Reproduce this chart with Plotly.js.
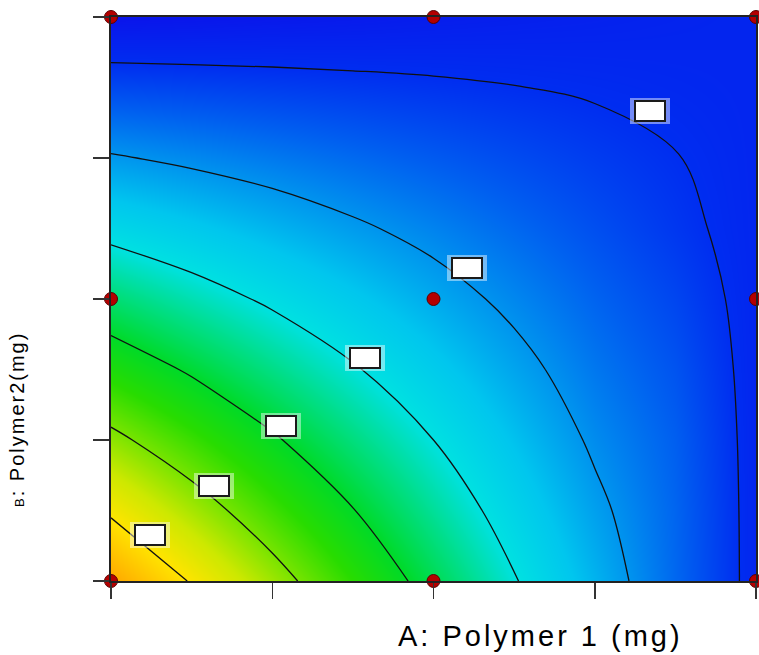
<!DOCTYPE html>
<html>
<head>
<meta charset="utf-8">
<script src="https://cdn.plot.ly/plotly-3.0.1.min.js"></script>
<style>
  html, body { margin: 0; padding: 0; background: #ffffff; }
  #chart { width: 759px; height: 655px; }
</style>
</head>
<body>
<div id="chart"></div>
<script>
// Coded factor levels (A: Polymer 1, B: Polymer 2), -1 .. +1
var factorA = [-1, -0.75, -0.5, -0.25, 0, 0.25, 0.5, 0.75, 1];
var factorB = [-1, -0.75, -0.5, -0.25, 0, 0.25, 0.5, 0.75, 1];

// Response values (rows follow factorB, columns follow factorA)
var respB_m100 = [86.9, 79.6, 72.3, 65.0, 57.7, 50.4, 43.1, 35.80, 28.5];
var respB_m075 = [79.2, 72.8, 66.5, 60.2, 53.8, 47.5, 41.2, 35.57, 28.5];
var respB_m050 = [71.4, 66.1, 60.7, 55.3, 50.0, 44.6, 39.2, 34.96, 28.5];
var respB_m025 = [63.7, 59.3, 54.9, 50.5, 46.1, 41.7, 37.3, 33.86, 28.5];
var respB_000  = [56.0, 52.5, 49.1, 45.7, 42.2, 38.8, 35.4, 32.45, 28.5];
var respB_p025 = [48.2, 45.8, 43.3, 40.8, 38.4, 35.9, 33.4, 31.00, 28.5];
var respB_p050 = [40.48, 38.98, 37.49, 35.99, 34.49, 32.99, 31.50, 30.13, 28.5];
var respB_p075 = [32.74, 32.21, 31.68, 31.15, 30.62, 30.09, 29.56, 29.03, 28.5];
var respB_p100 = [25.0, 25.4, 25.9, 26.3, 26.8, 27.2, 27.6, 28.06, 28.5];

// Contour levels drawn
var contourStart = 30;
var contourEnd = 80;
var contourStep = 10;

// Design points (red dots)
var designA = [-1, 0, 1, -1, 0, 1, -1, 0, 1];
var designB = [-1, -1, -1, 0, 0, 0, 1, 1, 1];

// Contour label positions (blank label boxes), one per contour from 80 down to 30
var labelA = [-0.879, -0.681, -0.473, -0.212, 0.104, 0.671];
var labelB = [-0.837, -0.663, -0.450, -0.209, 0.110, 0.667];

// Tick positions (no tick labels shown)
var tickA = [-1, -0.5, 0, 0.5, 1];
var tickB = [-1, -0.5, 0, 0.5, 1];

var zGrid = [respB_m100, respB_m075, respB_m050, respB_m025, respB_000,
             respB_p025, respB_p050, respB_p075, respB_p100];

var zMin = 25, zMax = 87;
function nrm(v) { return (v - zMin) / (zMax - zMin); }
var colorscale = [
  [0, 'rgb(10,20,235)'],
  [nrm(30), 'rgb(0,45,240)'],
  [nrm(35), 'rgb(0,95,240)'],
  [nrm(40), 'rgb(0,148,238)'],
  [nrm(45), 'rgb(0,198,238)'],
  [nrm(50), 'rgb(0,225,225)'],
  [nrm(55), 'rgb(0,222,130)'],
  [nrm(60), 'rgb(0,218,40)'],
  [nrm(65), 'rgb(40,220,0)'],
  [nrm(70), 'rgb(120,228,0)'],
  [nrm(75), 'rgb(205,232,0)'],
  [nrm(80), 'rgb(255,228,0)'],
  [1, 'rgb(255,165,0)']
];

var traces = [
  {
    type: 'heatmap',
    x: factorA, y: factorB, z: zGrid,
    zsmooth: 'best',
    zmin: zMin, zmax: zMax,
    colorscale: colorscale,
    showscale: false,
    hoverinfo: 'skip'
  },
  {
    type: 'contour',
    x: factorA, y: factorB, z: zGrid,
    autocontour: false,
    contours: { start: contourStart, end: contourEnd, size: contourStep, coloring: 'none', showlabels: false },
    line: { color: '#111111', width: 1.3, smoothing: 1 },
    showscale: false,
    hoverinfo: 'skip'
  },
  {
    type: 'scatter',
    mode: 'markers',
    x: designA, y: designB,
    cliponaxis: false,
    marker: { color: '#b40000', size: 13, line: { color: '#5a0000', width: 1 } },
    hoverinfo: 'skip'
  }
];

var annotations = [];
for (var i = 0; i < labelA.length; i++) {
  annotations.push({
    x: labelA[i], y: labelB[i], xref: 'x', yref: 'y',
    text: ' ', showarrow: false,
    width: 38, height: 24,
    bgcolor: 'rgba(255,255,255,0.45)',
    borderwidth: 0
  });
  annotations.push({
    x: labelA[i], y: labelB[i], xref: 'x', yref: 'y',
    text: ' ', showarrow: false,
    width: 26, height: 16,
    bgcolor: '#ffffff',
    bordercolor: '#1a1a1a', borderwidth: 2, borderpad: 1
  });
}
annotations.push({
  xref: 'paper', yref: 'paper', x: 0.666, y: -0.098,
  xanchor: 'center', yanchor: 'middle', showarrow: false,
  text: '<span style="letter-spacing:3px">A: Polymer 1 (mg)</span>',
  font: { family: 'Liberation Sans, Arial, sans-serif', size: 29, color: '#000000' }
});
annotations.push({
  xref: 'paper', yref: 'paper', x: -0.146, y: 0.287,
  xanchor: 'center', yanchor: 'middle', showarrow: false, textangle: -90,
  text: '<span style="letter-spacing:2px"><span style="font-size:13px">B</span>: Polymer2(mg)</span>',
  font: { family: 'Liberation Sans, Arial, sans-serif', size: 20, color: '#000000' }
});

var axisCommon = {
  range: [-1, 1],
  showgrid: false, zeroline: false,
  showticklabels: false,
  ticks: 'outside', ticklen: 16, tickwidth: 1.5, tickcolor: '#333333',
  showline: true, linecolor: '#222222', linewidth: 2, mirror: true
};

var layout = {
  width: 759, height: 655,
  margin: { l: 111, r: 3, t: 17, b: 74 },
  paper_bgcolor: '#ffffff', plot_bgcolor: '#ffffff',
  showlegend: false,
  xaxis: Object.assign({}, axisCommon, { tickvals: tickA }),
  yaxis: Object.assign({}, axisCommon, { tickvals: tickB }),
  annotations: annotations
};

Plotly.newPlot('chart', traces, layout, { displayModeBar: false, staticPlot: true });
</script>
</body>
</html>
